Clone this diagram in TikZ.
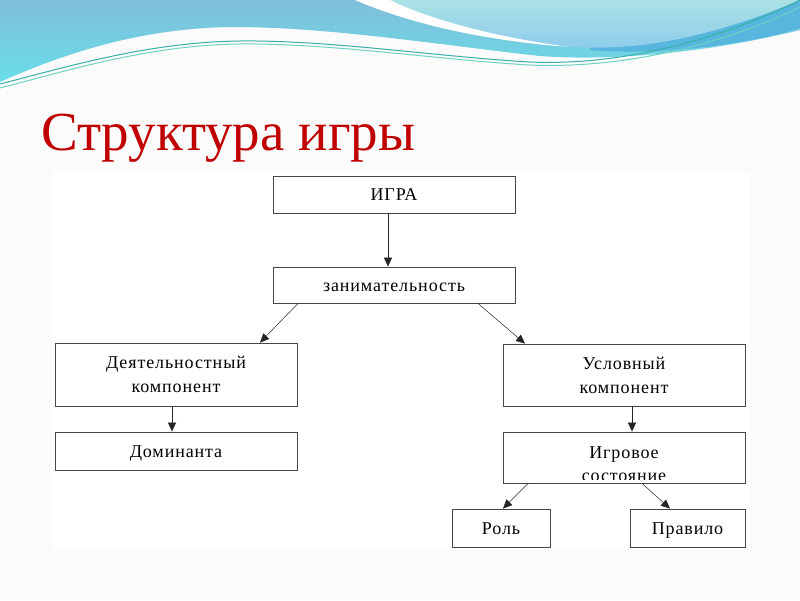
\documentclass[tikz,border=0pt]{standalone}
\usepackage{fontspec}
\setmainfont{Liberation Serif}
\usetikzlibrary{arrows.meta}
\definecolor{titlered}{RGB}{192,0,0}
\definecolor{boxgray}{RGB}{70,70,70}
\definecolor{bgcol}{RGB}{251,251,251}
\definecolor{bluetop}{RGB}{128,190,218}
\definecolor{bluebot}{RGB}{104,222,232}
\definecolor{lighttop}{RGB}{170,226,228}
\definecolor{lightbot}{RGB}{140,202,236}
\definecolor{darkstrip}{RGB}{86,182,222}
\definecolor{lineA}{RGB}{56,176,166}
\definecolor{lineB}{RGB}{110,210,194}
\begin{document}
\begin{tikzpicture}[x=1pt,y=-1pt,
  box/.style={draw=boxgray, line width=0.8pt, fill=white, inner sep=0pt,
    font=\fontsize{18}{24}\selectfont\addfontfeatures{LetterSpace=5}, align=center},
  one/.style={text height=12pt, text depth=0pt},
  lbl/.style={font=\fontsize{18}{24}\selectfont\addfontfeatures{LetterSpace=5}, inner sep=0pt},
  conn/.style={draw=black!85, line width=0.5pt, -{Triangle[length=9pt,width=8pt]}},
  wline/.style={line width=1pt}]
\useasboundingbox (0,0) rectangle (800,600);
\fill[bgcol] (0,0) rectangle (800,600);
% top waves
\shade[top color=bluetop, bottom color=bluebot]
  (0,0) -- (800,0) -- (800,30)
  .. controls (720,50) and (620,62) .. (540,56)
  .. controls (440,45) and (330,27) .. (233,27)
  .. controls (130,28) and (50,60) .. (0,82) -- cycle;
\fill[darkstrip] (590,50) .. controls (660,56) and (750,44) .. (800,28) -- (800,0) -- (590,0) -- cycle;
\shade[top color=lighttop, bottom color=lightbot]
  (380,0) .. controls (430,22) and (500,40) .. (575,47)
  .. controls (650,52) and (730,30) .. (800,0) -- cycle;
\fill[white] (355,0) .. controls (420,28) and (500,42) .. (570,47)
  .. controls (500,38) and (430,20) .. (390,0) -- cycle;
\draw[wline, lineA] (0,84) .. controls (70,66) and (150,42) .. (240,41)
  .. controls (330,40) and (440,57) .. (530,62)
  .. controls (620,66) and (720,40) .. (800,0);
\draw[wline, lineB] (0,88) .. controls (70,70) and (150,45) .. (240,44)
  .. controls (330,43) and (440,60) .. (530,65)
  .. controls (620,69) and (720,46) .. (800,7);
% title
\node[font=\fontsize{55}{62}\selectfont, text=titlered, anchor=base west, inner sep=0pt] (title) at (41,150) {Структура игры};
% diagram area
\fill[white] (52,172) rectangle (750,549);
\node[box, one, minimum width=242pt, minimum height=37pt] (igra) at (394,194.5) {ИГРА};
\node[box, one, minimum width=242pt, minimum height=36pt] (zanim) at (394,285) {занимательность};
\node[box, minimum width=242pt, minimum height=63pt] (deyat) at (176,374.5) {Деятельностный\\компонент};
\node[box, one, minimum width=242pt, minimum height=38pt] (domin) at (176,451) {Доминанта};
\node[box, minimum width=242pt, minimum height=62pt] (usl) at (624,375) {Условный\\компонент};
\node[box, minimum width=242pt, minimum height=51pt] (igrov) at (624,457.5) {};
\begin{scope}
  \clip (503,433) rectangle (745,479);
  \node[lbl, anchor=base] (igrovA) at (624,458) {Игровое};
  \node[lbl, anchor=base] (igrovB) at (624,481) {состояние};
\end{scope}
\node[box, one, minimum width=98pt, minimum height=38pt] (rol) at (501,528) {Роль};
\node[box, one, minimum width=115pt, minimum height=38pt] (prav) at (687.5,528) {Правило};
% connectors
\draw[conn] ([xshift=-6pt]igra.south) -- ([xshift=-6pt]zanim.north);
\draw[conn] ([xshift=-96pt]zanim.south) -- ([xshift=84pt]deyat.north);
\draw[conn] ([xshift=84pt]zanim.south) -- ([xshift=-99pt]usl.north);
\draw[conn] ([xshift=-4pt]deyat.south) -- ([xshift=-4pt]domin.north);
\draw[conn] ([xshift=8pt]usl.south) -- ([xshift=8pt]igrov.north);
\draw[conn] ([xshift=-96pt]igrov.south) -- ([xshift=2pt]rol.north);
\draw[conn] ([xshift=18pt]igrov.south) -- ([xshift=-17.5pt]prav.north);
\end{tikzpicture}
\end{document}
